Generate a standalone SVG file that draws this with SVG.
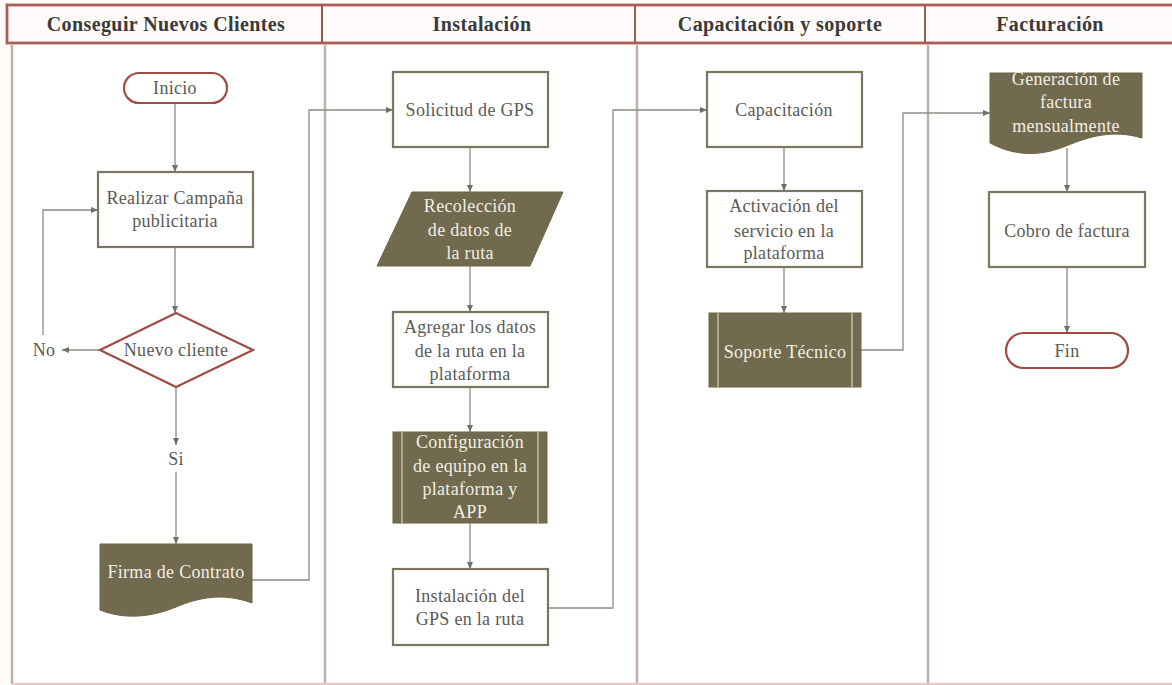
<svg xmlns="http://www.w3.org/2000/svg" width="1172" height="685" viewBox="0 0 1172 685">
<defs>
<style>
.hdr{font-family:"Liberation Serif","Times New Roman",serif;font-weight:bold;font-size:20px;letter-spacing:0.4px;fill:#3a3a3a;text-anchor:middle}
.t{font-family:"Liberation Serif","Times New Roman",serif;font-size:18px;letter-spacing:0.3px;fill:#5a5a55;text-anchor:middle}
.w{font-family:"Liberation Serif","Times New Roman",serif;font-size:18px;letter-spacing:0.3px;fill:#f2eee2;text-anchor:middle}
.box{fill:#ffffff;stroke:#7a765f;stroke-width:2.2}
.dark{fill:#716a4f;stroke:#6a6448;stroke-width:1}
.term{fill:#ffffff;stroke:#a04c44;stroke-width:2.2}
.lane{stroke:#bfb0ac;stroke-width:2.5;fill:none}
.conn{stroke:#8c8c84;stroke-width:1.3;fill:none}
.inner{stroke:#d8d2bc;stroke-width:1.2}
</style>
<marker id="ah" markerWidth="8" markerHeight="8" refX="7" refY="4" orient="auto" markerUnits="userSpaceOnUse">
<path d="M0,1 L7,4 L0,7 Z" fill="#6f6f68"/>
</marker>
</defs>
<rect x="0" y="0" width="1172" height="685" fill="#fefcfa"/>
<g id="lanes">
<rect x="12" y="43" width="1170" height="640" fill="#ffffff" stroke="none"/>
<line class="lane" x1="12" y1="43" x2="12" y2="684"/>
<line class="lane" x1="325" y1="43" x2="325" y2="684"/>
<line class="lane" x1="637" y1="43" x2="637" y2="684"/>
<line class="lane" x1="928" y1="43" x2="928" y2="684"/>
<line x1="12" y1="684" x2="1172" y2="684" stroke="#e8c8c0" stroke-width="2"/>
</g>
<g id="header">
<rect x="7" y="5" width="1170" height="38" fill="#fffbfa" stroke="#e8b8b0" stroke-width="4"/>
<rect x="7" y="5" width="1170" height="38" fill="none" stroke="#9a5a50" stroke-width="1.8"/>
<line x1="322" y1="5" x2="322" y2="43" stroke="#9a5a50" stroke-width="2"/>
<line x1="635" y1="5" x2="635" y2="43" stroke="#9a5a50" stroke-width="2"/>
<line x1="925" y1="5" x2="925" y2="43" stroke="#9a5a50" stroke-width="2"/>
<text class="hdr" x="166" y="31">Conseguir Nuevos Clientes</text>
<text class="hdr" x="482" y="31">Instalación</text>
<text class="hdr" x="780" y="31">Capacitación y soporte</text>
<text class="hdr" x="1050" y="31">Facturación</text>
</g>
<g id="connectors">
<line class="conn" x1="175" y1="103" x2="175" y2="172" marker-end="url(#ah)"/>
<line class="conn" x1="175" y1="247" x2="175" y2="313" marker-end="url(#ah)"/>
<line class="conn" x1="100" y1="350" x2="62" y2="350" marker-end="url(#ah)"/>
<polyline class="conn" points="43,335 43,210 98,210" marker-end="url(#ah)"/>
<line class="conn" x1="176" y1="387" x2="176" y2="445" marker-end="url(#ah)"/>
<line class="conn" x1="176" y1="472" x2="176" y2="544" marker-end="url(#ah)"/>
<polyline class="conn" points="252,580 309,580 309,110 393,110" marker-end="url(#ah)"/>
<line class="conn" x1="470" y1="147" x2="470" y2="192" marker-end="url(#ah)"/>
<line class="conn" x1="470" y1="266" x2="470" y2="312" marker-end="url(#ah)"/>
<line class="conn" x1="470" y1="387" x2="470" y2="432" marker-end="url(#ah)"/>
<line class="conn" x1="470" y1="523" x2="470" y2="569" marker-end="url(#ah)"/>
<polyline class="conn" points="548,608 613,608 613,110 707,110" marker-end="url(#ah)"/>
<line class="conn" x1="784" y1="147" x2="784" y2="191" marker-end="url(#ah)"/>
<line class="conn" x1="784" y1="267" x2="784" y2="313" marker-end="url(#ah)"/>
<polyline class="conn" points="861,350 903,350 903,113 990,113" marker-end="url(#ah)"/>
<line class="conn" x1="1067" y1="148" x2="1067" y2="192" marker-end="url(#ah)"/>
<line class="conn" x1="1067" y1="267" x2="1067" y2="333" marker-end="url(#ah)"/>
</g>
<g id="inicio">
<rect class="term" x="124" y="73" width="103" height="30" rx="15"/>
<text class="t" x="175" y="94">Inicio</text>
</g>
<g id="realizar">
<rect class="box" x="98" y="172" width="155" height="75"/>
<text class="t" x="175" y="204">Realizar Campaña</text>
<text class="t" x="175" y="227">publicitaria</text>
</g>
<g id="nuevo-cliente">
<polygon class="term" points="176,313 253,350 176,387 100,350"/>
<text class="t" x="176" y="356">Nuevo cliente</text>
</g>
<g id="no-label">
<text class="t" x="44" y="356">No</text>
</g>
<g id="si-label">
<text class="t" x="176" y="465">Si</text>
</g>
<g id="firma">
<path class="dark" d="M100,544 H252 V603 C222,592 198,598 176,607 C152,617 125,620 100,610 Z"/>
<text class="w" x="176" y="578">Firma de Contrato</text>
</g>
<g id="solicitud">
<rect class="box" x="393" y="72" width="155" height="75"/>
<text class="t" x="470" y="116">Solicitud de GPS</text>
</g>
<g id="recoleccion">
<polygon class="dark" points="412,192 563,192 530,266 377,266"/>
<text class="w" x="470" y="212">Recolección</text>
<text class="w" x="470" y="236">de datos de</text>
<text class="w" x="470" y="259">la ruta</text>
</g>
<g id="agregar">
<rect class="box" x="393" y="312" width="155" height="75"/>
<text class="t" x="470" y="333">Agregar los datos</text>
<text class="t" x="470" y="357">de la ruta en la</text>
<text class="t" x="470" y="380">plataforma</text>
</g>
<g id="configuracion">
<rect class="dark" x="393" y="432" width="154" height="91"/>
<line class="inner" x1="402" y1="432" x2="402" y2="523"/>
<line class="inner" x1="538" y1="432" x2="538" y2="523"/>
<text class="w" x="470" y="448">Configuración</text>
<text class="w" x="470" y="472">de equipo en la</text>
<text class="w" x="470" y="495">plataforma y</text>
<text class="w" x="470" y="518">APP</text>
</g>
<g id="instalacion">
<rect class="box" x="393" y="569" width="155" height="76"/>
<text class="t" x="470" y="602">Instalación del</text>
<text class="t" x="470" y="625">GPS en la ruta</text>
</g>
<g id="capacitacion">
<rect class="box" x="707" y="72" width="155" height="75"/>
<text class="t" x="784" y="116">Capacitación</text>
</g>
<g id="activacion">
<rect class="box" x="707" y="191" width="155" height="76"/>
<text class="t" x="784" y="212">Activación del</text>
<text class="t" x="784" y="237">servicio en la</text>
<text class="t" x="784" y="259">plataforma</text>
</g>
<g id="soporte">
<rect class="dark" x="709" y="313" width="152" height="74"/>
<line class="inner" x1="718" y1="313" x2="718" y2="387"/>
<line class="inner" x1="852" y1="313" x2="852" y2="387"/>
<text class="w" x="785" y="358">Soporte Técnico</text>
</g>
<g id="generacion">
<path class="dark" d="M990,73 H1142 V138 C1112,129 1088,137 1066,146 C1044,155 1018,158 990,143 Z"/>
<text class="w" x="1066" y="85">Generación de</text>
<text class="w" x="1066" y="108">factura</text>
<text class="w" x="1066" y="132">mensualmente</text>
</g>
<g id="cobro">
<rect class="box" x="989" y="192" width="156" height="75"/>
<text class="t" x="1067" y="237">Cobro de factura</text>
</g>
<g id="fin">
<rect class="term" x="1006" y="333" width="122" height="35" rx="17.5"/>
<text class="t" x="1067" y="357">Fin</text>
</g>
</svg>
